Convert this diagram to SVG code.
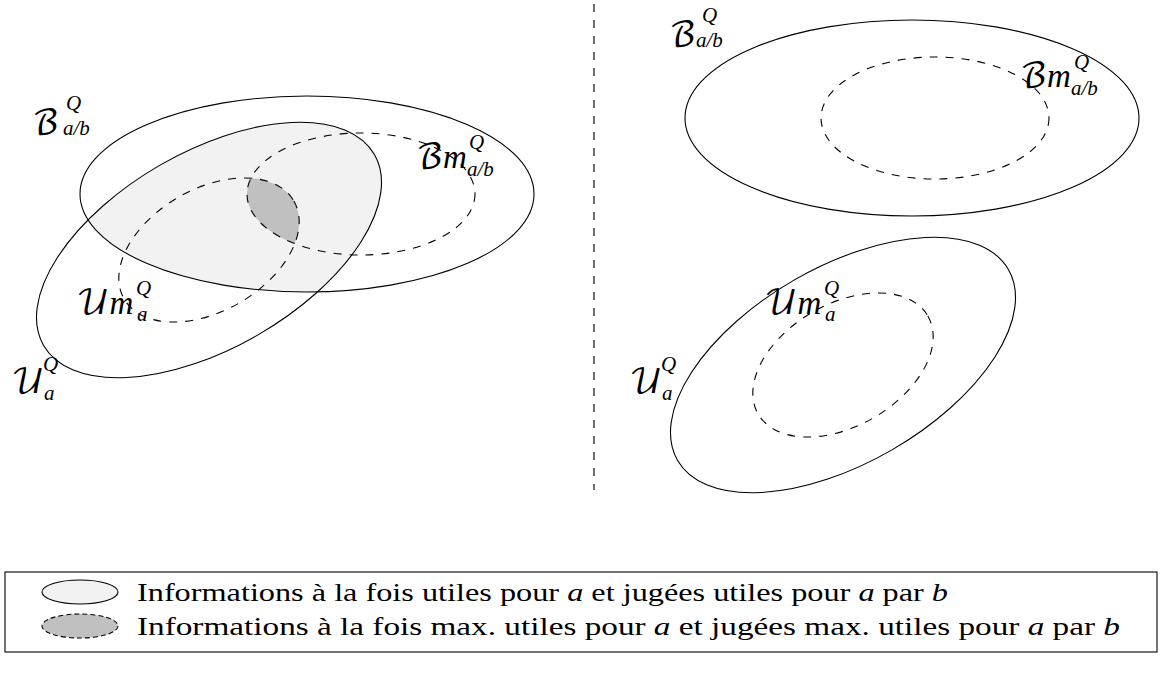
<svg xmlns="http://www.w3.org/2000/svg" width="1166" height="679" viewBox="0 0 1166 679">
<style>
.solid{fill:none;stroke:#000;stroke-width:1.1}
.dash{fill:none;stroke:#000;stroke-width:1.1;stroke-dasharray:8 8}
.lab{font-family:"DejaVu Math TeX Gyre","DejaVu Serif","Liberation Serif",serif;font-size:34px;fill:#000}
.scr{font-family:"Liberation Serif",serif;font-style:italic;font-size:21px;fill:#000}
.mi{font-family:"Liberation Serif",serif;font-style:italic;font-size:33px;fill:#000}
.leg{font-family:"Liberation Serif",serif;font-size:26px;fill:#000}
</style>
<defs>
<clipPath id="clipBL"><ellipse cx="307" cy="194" rx="227" ry="98"/></clipPath>
<clipPath id="clipBmL"><ellipse cx="361" cy="194" rx="114" ry="61"/></clipPath>
</defs>

<g id="fills">
<g clip-path="url(#clipBL)"><ellipse cx="209" cy="250" rx="191" ry="98" transform="rotate(-30 209 250)" fill="#f2f2f2"/></g>
<g clip-path="url(#clipBmL)"><ellipse cx="209" cy="250" rx="98" ry="61" transform="rotate(-30 209 250)" fill="#c0c0c0"/></g>
</g>

<g id="left-B">
<ellipse class="solid" cx="307" cy="194" rx="227" ry="98"/>
<text x="32" y="134"><tspan class="lab">ℬ</tspan><tspan class="scr" x="66" y="110">Q</tspan><tspan class="scr" x="63" y="135">a/b</tspan></text>
</g>
<g id="left-U">
<ellipse class="solid" cx="209" cy="250" rx="191" ry="98" transform="rotate(-30 209 250)"/>
<text x="11" y="393"><tspan class="lab">𝒰</tspan><tspan class="scr" x="43" y="371">Q</tspan><tspan class="scr" x="44" y="400">a</tspan></text>
</g>
<g id="left-Bm">
<ellipse class="dash" cx="361" cy="194" rx="114" ry="61"/>
<text x="416" y="168"><tspan class="lab">ℬ</tspan><tspan class="mi">m</tspan><tspan class="scr" x="469" y="149">Q</tspan><tspan class="scr" x="467" y="176">a/b</tspan></text>
</g>
<g id="left-Um">
<ellipse class="dash" cx="209" cy="250" rx="98" ry="61" transform="rotate(-30 209 250)"/>
<text x="76" y="314"><tspan class="lab">𝒰</tspan><tspan class="mi">m</tspan><tspan class="scr" x="136" y="295">Q</tspan><tspan class="scr" x="137" y="321">a</tspan></text>
</g>

<g id="separator">
<line class="dash" x1="594" y1="4" x2="594" y2="490"/>
</g>

<g id="right-B">
<ellipse class="solid" cx="912" cy="118" rx="227" ry="98"/>
<text x="669" y="46"><tspan class="lab">ℬ</tspan><tspan class="scr" x="702" y="22">Q</tspan><tspan class="scr" x="696" y="47">a/b</tspan></text>
</g>
<g id="right-Bm">
<ellipse class="dash" cx="935" cy="118" rx="114" ry="61"/>
<text x="1020" y="87"><tspan class="lab">ℬ</tspan><tspan class="mi">m</tspan><tspan class="scr" x="1074" y="69">Q</tspan><tspan class="scr" x="1071" y="95">a/b</tspan></text>
</g>
<g id="right-U">
<ellipse class="solid" cx="843" cy="365" rx="191" ry="98" transform="rotate(-30 843 365)"/>
<text x="629" y="393"><tspan class="lab">𝒰</tspan><tspan class="scr" x="661" y="371">Q</tspan><tspan class="scr" x="662" y="400">a</tspan></text>
</g>
<g id="right-Um">
<ellipse class="dash" cx="843" cy="365" rx="98" ry="61" transform="rotate(-30 843 365)"/>
<text x="764" y="314"><tspan class="lab">𝒰</tspan><tspan class="mi">m</tspan><tspan class="scr" x="824" y="295">Q</tspan><tspan class="scr" x="825" y="321">a</tspan></text>
</g>

<g id="legend">
<rect x="5" y="572" width="1152" height="80" fill="none" stroke="#000" stroke-width="1.1"/>
<ellipse cx="80" cy="592" rx="38" ry="12" fill="#f2f2f2" stroke="#000" stroke-width="1.1"/>
<ellipse cx="80" cy="626" rx="38" ry="12" fill="#c0c0c0" stroke="#000" stroke-width="1.1" stroke-dasharray="5 3"/>
<text class="leg" x="137" y="601" textLength="811" lengthAdjust="spacingAndGlyphs">Informations à la fois utiles pour <tspan font-style="italic">a</tspan> et jugées utiles pour <tspan font-style="italic">a</tspan> par <tspan font-style="italic">b</tspan></text>
<text class="leg" x="137" y="635" textLength="983" lengthAdjust="spacingAndGlyphs">Informations à la fois max. utiles pour <tspan font-style="italic">a</tspan> et jugées max. utiles pour <tspan font-style="italic">a</tspan> par <tspan font-style="italic">b</tspan></text>
</g>
</svg>
